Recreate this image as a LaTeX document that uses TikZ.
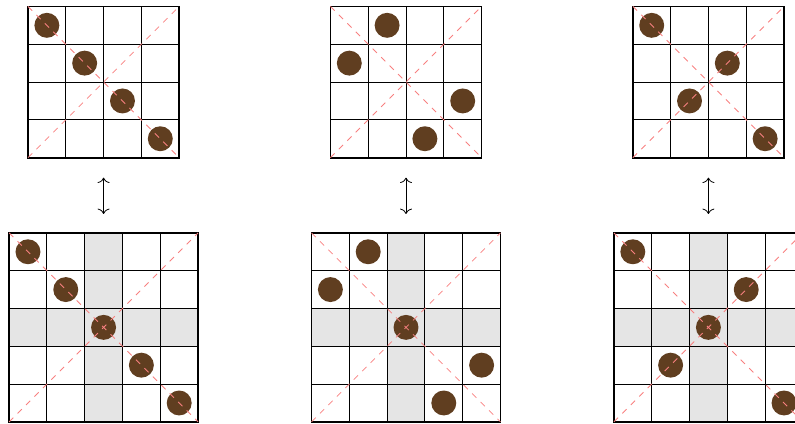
\documentclass[tikz,border=0pt]{standalone}
\usetikzlibrary{arrows.meta, positioning, calc}
\definecolor{queencolor}{RGB}{96,62,32}
\definecolor{diagcolor}{RGB}{248,128,128}
\definecolor{bandcolor}{RGB}{229,229,229}

\begin{document}
\begin{tikzpicture}[
    cell/.style={draw, line width=0.7pt},
    frame/.style={draw, line width=1.3pt},
    diag/.style={draw=diagcolor, dash pattern=on 4.5pt off 4.5pt, line width=0.65pt},
    queen/.style={circle, fill=queencolor, inner sep=0pt, minimum size=0.66cm},
    band/.style={fill=bandcolor},
    arrow/.style={{To[length=4pt,width=9pt]}-{To[length=4pt,width=9pt]}, line width=0.6pt}
]
\useasboundingbox (0,0) rectangle (21.03,11.19);

% top boards, 4x4
\foreach \k/\cols in {0/{1,2,3,4}, 1/{2,1,4,3}, 2/{1,3,2,4}} {
  \begin{scope}[shift={(0.74+8*\k,7.02)}]
    \foreach \c [count=\r] in \cols
      \node[queen] (t\k-\r) at (\c-0.5,4.5-\r) {};
    \draw[cell] (0,0) grid (4,4);
    \draw[frame] (0,0) rectangle (4,4);
    \draw[diag] (0,0) -- (4,4) (0,4) -- (4,0);
    \coordinate (top\k) at (2,0);
  \end{scope}
}

% bottom boards, 5x5 with the middle row and column shaded
\foreach \k/\cols in {0/{1,2,3,4,5}, 1/{2,1,3,5,4}, 2/{1,4,3,2,5}} {
  \begin{scope}[shift={(0.24+8*\k,0.03)}]
    \fill[band] (2,0) rectangle (3,5) (0,2) rectangle (5,3);
    \foreach \c [count=\r] in \cols
      \node[queen] (b\k-\r) at (\c-0.5,5.5-\r) {};
    \draw[cell] (0,0) grid (5,5);
    \draw[frame] (0,0) rectangle (5,5);
    \draw[diag] (0,0) -- (5,5) (0,5) -- (5,0);
    \coordinate (bot\k) at (2.5,5);
  \end{scope}
}

\foreach \k in {0,1,2}
  \draw[arrow, shorten <=0.53cm, shorten >=0.5cm] (top\k) -- (bot\k);
\end{tikzpicture}
\end{document}
